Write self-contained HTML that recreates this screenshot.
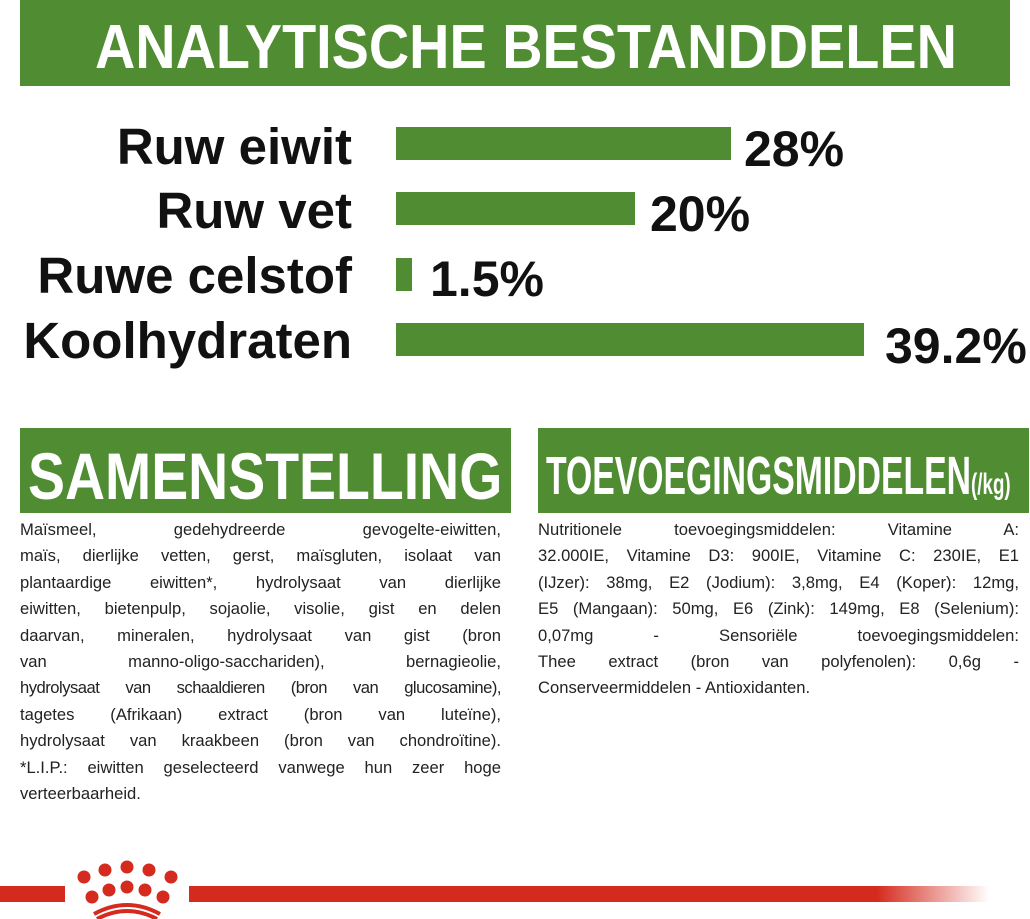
<!DOCTYPE html><html><head><style>
body{margin:0;width:1030px;height:919px;background:#fff;position:relative;overflow:hidden;font-family:"Liberation Sans",sans-serif}
.g{position:absolute;background:#4f8c32;color:#fff;font-weight:bold}
.lab{position:absolute;right:678px;font-weight:bold;font-size:51px;color:#111;white-space:nowrap;line-height:1}
.bar{position:absolute;left:396px;height:33px;background:#4f8c32}
.val{position:absolute;font-weight:bold;font-size:50px;color:#111;line-height:1}
.txt{position:absolute;font-size:16.6px;line-height:26.4px;color:#222;width:481px}
.txt div{text-align:justify;text-align-last:justify;white-space:nowrap;height:26.4px}
.txt div.l{text-align-last:left}
.h{position:absolute;white-space:nowrap;transform-origin:0 0}
</style></head><body>
<div class="g" style="left:20px;top:0;width:990px;height:86px"></div>
<div class="h" style="left:95px;top:12px;color:#fff;font-weight:bold;font-size:62px;transform:scaleX(0.90)">ANALYTISCHE BESTANDDELEN</div>

<div class="lab" style="top:121px">Ruw eiwit</div>
<div class="lab" style="top:185px">Ruw vet</div>
<div class="lab" style="top:250px">Ruwe celstof</div>
<div class="lab" style="top:315px">Koolhydraten</div>
<div class="bar" style="top:127px;width:335px"></div>
<div class="bar" style="top:192px;width:239px"></div>
<div class="bar" style="top:258px;width:16px"></div>
<div class="bar" style="top:323px;width:468px"></div>
<div class="val" style="left:744px;top:124px">28%</div>
<div class="val" style="left:650px;top:189px">20%</div>
<div class="val" style="left:430px;top:254px">1.5%</div>
<div class="val" style="left:885px;top:321px">39.2%</div>

<div class="g" style="left:20px;top:428px;width:491px;height:85px"></div>
<div class="h" style="left:28px;top:438px;color:#fff;font-weight:bold;font-size:66px;transform:scaleX(0.84)">SAMENSTELLING</div>
<div class="g" style="left:538px;top:428px;width:491px;height:85px"></div>
<div class="h" style="left:546px;top:445px;color:#fff;font-weight:bold;font-size:54px;transform:scaleX(0.625)">TOEVOEGINGSMIDDELEN<span style="font-size:30px">(/kg)</span></div>

<div class="txt" style="left:20px;top:517px">
<div>Maïsmeel, gedehydreerde gevogelte-eiwitten,</div>
<div>maïs, dierlijke vetten, gerst, maïsgluten, isolaat van</div>
<div>plantaardige eiwitten*, hydrolysaat van dierlijke</div>
<div>eiwitten, bietenpulp, sojaolie, visolie, gist en delen</div>
<div>daarvan, mineralen, hydrolysaat van gist (bron</div>
<div>van manno-oligo-sacchariden), bernagieolie,</div>
<div style="letter-spacing:-0.5px">hydrolysaat van schaaldieren (bron van glucosamine),</div>
<div>tagetes (Afrikaan) extract (bron van luteïne),</div>
<div>hydrolysaat van kraakbeen (bron van chondroïtine).</div>
<div>*L.I.P.: eiwitten geselecteerd vanwege hun zeer hoge</div>
<div class="l">verteerbaarheid.</div>
</div>
<div class="txt" style="left:538px;top:517px">
<div>Nutritionele toevoegingsmiddelen: Vitamine A:</div>
<div>32.000IE, Vitamine D3: 900IE, Vitamine C: 230IE, E1</div>
<div>(IJzer): 38mg, E2 (Jodium): 3,8mg, E4 (Koper): 12mg,</div>
<div>E5 (Mangaan): 50mg, E6 (Zink): 149mg, E8 (Selenium):</div>
<div>0,07mg - Sensoriële toevoegingsmiddelen:</div>
<div>Thee extract (bron van polyfenolen): 0,6g -</div>
<div class="l">Conserveermiddelen - Antioxidanten.</div>
</div>

<div style="position:absolute;left:0;top:886px;width:65px;height:16px;background:#d52b1e"></div>
<div style="position:absolute;left:189px;top:886px;width:800px;height:16px;background:linear-gradient(to right,#d52b1e 0,#d52b1e 86%,rgba(213,43,30,0) 100%)"></div>
<svg style="position:absolute;left:70px;top:860px" width="115" height="59" viewBox="0 0 115 59">
<g fill="#d52b1e">
<circle cx="14" cy="17" r="6.5"/><circle cx="35" cy="10" r="6.5"/><circle cx="57" cy="7" r="6.5"/><circle cx="79" cy="10" r="6.5"/><circle cx="101" cy="17" r="6.5"/>
<circle cx="22" cy="37" r="6.5"/><circle cx="39" cy="30" r="6.5"/><circle cx="57" cy="27" r="6.5"/><circle cx="75" cy="30" r="6.5"/><circle cx="93" cy="37" r="6.5"/>
</g>
<path d="M24 54 Q57 36 90 54" stroke="#d52b1e" stroke-width="4" fill="none"/>
<path d="M27 59 Q57 43 87 59" stroke="#d52b1e" stroke-width="4" fill="none"/>
</svg>
</body></html>
